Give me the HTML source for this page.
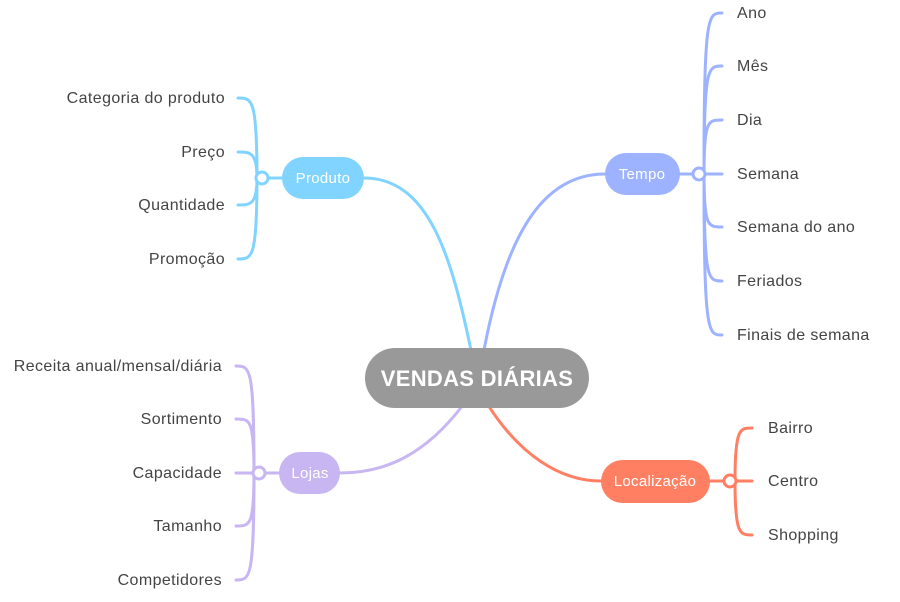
<!DOCTYPE html>
<html><head><meta charset="utf-8"><style>
html,body{margin:0;padding:0;background:#fff;}
svg{display:block}
text{font-family:"Liberation Sans",sans-serif;font-size:16px;letter-spacing:0.4px;fill:#444;}
.w{fill:#fff;font-size:15px;letter-spacing:0.3px}
</style></head><body>
<svg width="900" height="602" viewBox="0 0 900 602" xmlns="http://www.w3.org/2000/svg">
<g fill="none" stroke-width="3" stroke-linecap="round">
<path d="M471 350 C452 260 430 178 364 178" stroke="#80D4FF"/>
<path d="M484 350 C505 240 540 174 605 174" stroke="#9DB3FF"/>
<path d="M463 405 C425 455 385 473 340 473" stroke="#C8B6F2"/>
<path d="M488 405 C520 455 560 481 601 481" stroke="#FF7F62"/>
<g stroke="#80D4FF">
<path d="M268 178 H282"/>
<path d="M257 178 C257 98 252 98 238 98"/>
<path d="M257 178 C257 152 250 152 238 152"/>
<path d="M257 178 C257 205 250 205 238 205"/>
<path d="M257 178 C257 259 252 259 238 259"/>
</g>
<g stroke="#9DB3FF">
<path d="M680 174 H693"/>
<path d="M704 174 C704 13 708 13 722 13"/>
<path d="M704 174 C704 66 708 66 722 66"/>
<path d="M704 174 C704 120 708 120 722 120"/>
<path d="M705 174 H722"/>
<path d="M704 174 C704 227 708 227 722 227"/>
<path d="M704 174 C704 281 708 281 722 281"/>
<path d="M704 174 C704 335 708 335 722 335"/>
</g>
<g stroke="#C8B6F2">
<path d="M265 473 H279"/>
<path d="M254 473 C254 366 250 366 236 366"/>
<path d="M254 473 C254 419 250 419 236 419"/>
<path d="M253 473 H236"/>
<path d="M254 473 C254 526 250 526 236 526"/>
<path d="M254 473 C254 580 250 580 236 580"/>
</g>
<g stroke="#FF7F62">
<path d="M710 481 H724"/>
<path d="M735 481 C735 428 740 428 752 428"/>
<path d="M736 481 H752"/>
<path d="M735 481 C735 535 740 535 752 535"/>
</g>
</g>
<circle cx="262" cy="178" r="6" fill="#fff" stroke="#80D4FF" stroke-width="3"/>
<circle cx="699" cy="174" r="6" fill="#fff" stroke="#9DB3FF" stroke-width="3"/>
<circle cx="259" cy="473" r="6" fill="#fff" stroke="#C8B6F2" stroke-width="3"/>
<circle cx="730" cy="481" r="6" fill="#fff" stroke="#FF7F62" stroke-width="3"/>
<rect x="365" y="348" width="224" height="60" rx="30" fill="#999"/>
<text x="477" y="386" text-anchor="middle" class="w" style="font-size:22px;font-weight:bold;letter-spacing:0.3px">VENDAS DIÁRIAS</text>
<rect x="282" y="157" width="82" height="42" rx="21" fill="#80D4FF"/>
<text x="323" y="183" text-anchor="middle" class="w">Produto</text>
<rect x="605" y="153" width="75" height="42" rx="21" fill="#9DB3FF"/>
<text x="642" y="179" text-anchor="middle" class="w">Tempo</text>
<rect x="279" y="452" width="61" height="42" rx="21" fill="#C8B6F2"/>
<text x="310" y="478" text-anchor="middle" class="w">Lojas</text>
<rect x="601" y="460" width="109" height="43" rx="21.5" fill="#FF7F62"/>
<text x="655" y="486" text-anchor="middle" class="w">Localização</text>
<g text-anchor="end">
<text x="225" y="103">Categoria do produto</text>
<text x="225" y="157">Preço</text>
<text x="225" y="210">Quantidade</text>
<text x="225" y="264">Promoção</text>
<text x="222" y="371">Receita anual/mensal/diária</text>
<text x="222" y="424">Sortimento</text>
<text x="222" y="478">Capacidade</text>
<text x="222" y="531">Tamanho</text>
<text x="222" y="585">Competidores</text>
</g>
<text x="737" y="18">Ano</text>
<text x="737" y="71">Mês</text>
<text x="737" y="125">Dia</text>
<text x="737" y="179">Semana</text>
<text x="737" y="232">Semana do ano</text>
<text x="737" y="286">Feriados</text>
<text x="737" y="340">Finais de semana</text>
<text x="768" y="433">Bairro</text>
<text x="768" y="486">Centro</text>
<text x="768" y="540">Shopping</text>
</svg>
</body></html>
